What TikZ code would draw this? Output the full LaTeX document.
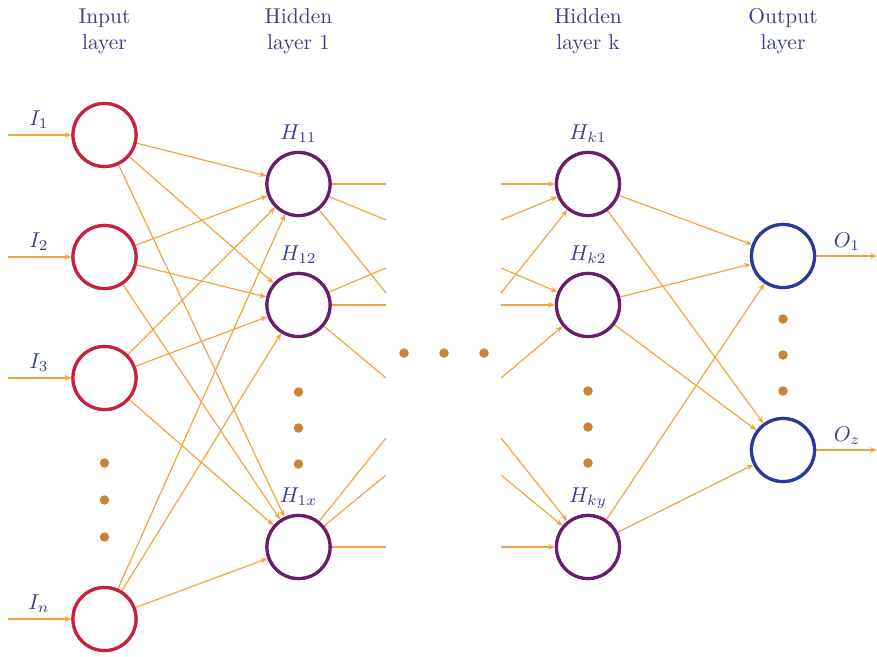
\documentclass[tikz,border=0pt]{standalone}
\usepackage{graphicx}
\usetikzlibrary{arrows.meta}
\definecolor{incol}{HTML}{C8213F}
\definecolor{hidcol}{HTML}{6A1D6C}
\definecolor{outcol}{HTML}{2A3A9C}
\definecolor{edgecol}{HTML}{F2A444}
\definecolor{dotcol}{HTML}{C98436}
\definecolor{txtcol}{HTML}{3A3C8C}
\newcommand\bigsc[1]{\scalebox{2.15}{#1}}
\begin{document}
\begin{tikzpicture}[x=1pt,y=-1pt,
  neuron/.style={circle,draw,line width=3.2pt,minimum size=63pt,inner sep=0pt,fill=white},
  inn/.style={neuron,draw=incol},
  hid/.style={neuron,draw=hidcol},
  outn/.style={neuron,draw=outcol},
  edge/.style={draw=edgecol,line width=1.2pt},
  arr/.style={edge,-{Stealth[length=7pt,width=5.5pt]}},
  ldot/.style={circle,fill=dotcol,inner sep=0pt,minimum size=9.5pt},
  ttl/.style={text=txtcol,inner sep=0pt},
  mlab/.style={text=txtcol,anchor=base,inner sep=0pt}]
\useasboundingbox (0,0) rectangle (877,656);
% titles
\node[ttl] (t1) at (104.5,31) {\bigsc{\begin{tabular}{@{}c@{}}Input\\layer\end{tabular}}};
\node[ttl] (t2) at (298.5,31) {\bigsc{\begin{tabular}{@{}c@{}}Hidden\\layer 1\end{tabular}}};
\node[ttl] (t3) at (588,31) {\bigsc{\begin{tabular}{@{}c@{}}Hidden\\layer k\end{tabular}}};
\node[ttl] (t4) at (783,31) {\bigsc{\begin{tabular}{@{}c@{}}Output\\layer\end{tabular}}};
% neurons
\node[inn] (I1) at (104.5,135) {};
\node[inn] (I2) at (104.5,257) {};
\node[inn] (I3) at (104.5,378) {};
\node[inn] (In) at (104.5,619) {};
\node[hid] (H11) at (298.5,184) {};
\node[hid] (H12) at (298.5,305) {};
\node[hid] (H1x) at (298.5,547) {};
\node[hid] (Hk1) at (588,184) {};
\node[hid] (Hk2) at (588,305) {};
\node[hid] (Hky) at (588,547) {};
\node[outn] (O1) at (783,256) {};
\node[outn] (Oz) at (783,450) {};
% labels
\node[mlab] (lI1) at (39,125) {\bigsc{$I_1$}};
\node[mlab] (lI2) at (39,247) {\bigsc{$I_2$}};
\node[mlab] (lI3) at (39,368) {\bigsc{$I_3$}};
\node[mlab] (lIn) at (39,609) {\bigsc{$I_n$}};
\node[mlab] (lH11) at (298.5,139) {\bigsc{$H_{11}$}};
\node[mlab] (lH12) at (298.5,260) {\bigsc{$H_{12}$}};
\node[mlab] (lH1x) at (298.5,502) {\bigsc{$H_{1x}$}};
\node[mlab] (lHk1) at (588,139) {\bigsc{$H_{k1}$}};
\node[mlab] (lHk2) at (588,260) {\bigsc{$H_{k2}$}};
\node[mlab] (lHky) at (588,502) {\bigsc{$H_{ky}$}};
\node[mlab] (lO1) at (847,247) {\bigsc{$O_1$}};
\node[mlab] (lOz) at (847,441) {\bigsc{$O_z$}};
% input / output stubs
\coordinate (a1) at (8,135);
\coordinate (a2) at (8,257);
\coordinate (a3) at (8,378);
\coordinate (an) at (8,619);
\coordinate (b1) at (877,256);
\coordinate (bz) at (877,450);
\foreach \s/\t in {a1/I1,a2/I2,a3/I3,an/In} \draw[arr] (\s) -- (\t);
\draw[arr] (O1) -- (b1);
\draw[arr] (Oz) -- (bz);
% input -> hidden 1
\foreach \i in {I1,I2,I3,In}
  \foreach \h in {H11,H12,H1x}
    \draw[arr] (\i) -- (\h);
% truncated stubs
\coordinate (l1) at (386,184); \coordinate (l2) at (386,220); \coordinate (l3) at (386,293);
\coordinate (l4) at (386,268); \coordinate (l5) at (386,305); \coordinate (l6) at (386,378);
\coordinate (l7) at (386,438); \coordinate (l8) at (386,475); \coordinate (l9) at (386,547);
\coordinate (r1) at (501,184); \coordinate (r2) at (501,220); \coordinate (r3) at (501,293);
\coordinate (r4) at (501,268); \coordinate (r5) at (501,305); \coordinate (r6) at (501,378);
\coordinate (r7) at (501,438); \coordinate (r8) at (501,475); \coordinate (r9) at (501,547);
\foreach \c in {l1,l2,l3} \draw[edge] (H11) -- (\c);
\foreach \c in {l4,l5,l6} \draw[edge] (H12) -- (\c);
\foreach \c in {l7,l8,l9} \draw[edge] (H1x) -- (\c);
\foreach \c in {r1,r2,r3} \draw[arr] (\c) -- (Hk1);
\foreach \c in {r4,r5,r6} \draw[arr] (\c) -- (Hk2);
\foreach \c in {r7,r8,r9} \draw[arr] (\c) -- (Hky);
% hidden k -> output
\foreach \h in {Hk1,Hk2,Hky}
  \foreach \o in {O1,Oz}
    \draw[arr] (\h) -- (\o);
% redraw neurons on top
\foreach \n in {I1,I2,I3,In} \node[inn] at (\n) {};
\foreach \n in {H11,H12,H1x,Hk1,Hk2,Hky} \node[hid] at (\n) {};
\foreach \n in {O1,Oz} \node[outn] at (\n) {};
% dots
\node[ldot] (d1) at (104.5,463) {};
\node[ldot] (d2) at (104.5,500) {};
\node[ldot] (d3) at (104.5,537) {};
\node[ldot] (d4) at (298.5,392) {};
\node[ldot] (d5) at (298.5,428) {};
\node[ldot] (d6) at (298.5,464) {};
\node[ldot] (d7) at (404,353) {};
\node[ldot] (d8) at (444,353) {};
\node[ldot] (d9) at (484,353) {};
\node[ldot] (d10) at (588,391) {};
\node[ldot] (d11) at (588,427) {};
\node[ldot] (d12) at (588,463) {};
\node[ldot] (d13) at (783,319) {};
\node[ldot] (d14) at (783,355) {};
\node[ldot] (d15) at (783,391) {};
\end{tikzpicture}
\end{document}
